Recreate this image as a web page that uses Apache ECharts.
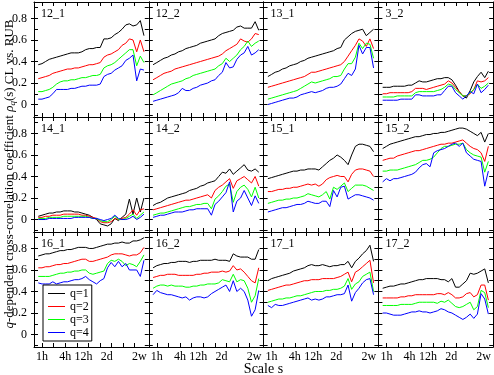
<!DOCTYPE html>
<html>
<head>
<meta charset="utf-8">
<script src="https://cdn.jsdelivr.net/npm/echarts@6/dist/echarts.min.js"></script>
<style>
  html, body { margin: 0; padding: 0; background: #fff; }
  #chart { width: 494px; height: 375px; }
</style>
</head>
<body>
<div id="chart"></div>
<script>
// panels in reading order, 4 per row
const panelNames = ['12_1', '12_2', '13_1', '3_2', '14_1', '14_2', '15_1', '15_2', '16_1', '16_2', '17_1', '17_2'];
const seriesNames = ['q=1', 'q=2', 'q=3', 'q=4'];
const seriesColors = ['#000000', '#ff0000', '#00ff00', '#0000ff'];

// scale s in hours (log spaced)
const scaleHours = [0.8, 1, 1.24, 1.54, 1.91, 2.38, 2.96, 3.68, 4.57, 5.69, 7.08, 8.79, 10.9, 13.6, 16.9,
  21, 26.2, 32.5, 40.5, 50.3, 62.5, 77.8, 96.8, 120, 150, 186, 231, 288, 358, 445];

const xTickLabels = ['1h', '4h', '12h', '2d', '2w'];
const xTickHours = [1, 4, 12, 48, 336];
const xMinorHours = [1, 2, 4, 8, 16, 32, 64, 128, 256];
const yTickLabels = [0, 0.2, 0.4, 0.6, 0.8];
const yMinorTicks = [-0.1, 0, 0.1, 0.2, 0.3, 0.4, 0.5, 0.6, 0.7, 0.8, 0.9];

// each panel: [q=1, q=2, q=3, q=4]
const p12_1 = [
  [0.37,0.38,0.40,0.42,0.43,0.44,0.45,0.46,0.47,0.48,0.48,0.48,0.49,0.51,0.52,0.52,0.53,0.53,0.61,0.61,0.62,0.65,0.67,0.70,0.74,0.75,0.73,0.74,0.78,0.64],
  [0.24,0.25,0.26,0.27,0.29,0.30,0.31,0.32,0.33,0.33,0.34,0.34,0.35,0.36,0.37,0.37,0.38,0.39,0.44,0.46,0.47,0.49,0.51,0.55,0.57,0.61,0.60,0.49,0.60,0.49],
  [0.12,0.12,0.13,0.14,0.16,0.19,0.21,0.22,0.22,0.23,0.23,0.24,0.25,0.25,0.26,0.27,0.27,0.28,0.34,0.36,0.37,0.39,0.42,0.45,0.48,0.51,0.51,0.36,0.45,0.39],
  [0.05,0.05,0.06,0.07,0.10,0.14,0.14,0.14,0.14,0.15,0.15,0.16,0.17,0.17,0.18,0.18,0.18,0.19,0.26,0.28,0.29,0.32,0.34,0.36,0.41,0.43,0.46,0.22,0.33,0.32]
];
const p12_2 = [
  [0.37,0.39,0.41,0.43,0.44,0.46,0.47,0.49,0.50,0.52,0.53,0.54,0.55,0.57,0.58,0.59,0.60,0.61,0.64,0.66,0.67,0.68,0.69,0.72,0.73,0.71,0.71,0.71,0.77,0.69],
  [0.23,0.25,0.27,0.29,0.30,0.31,0.33,0.34,0.35,0.36,0.37,0.38,0.39,0.40,0.41,0.42,0.43,0.44,0.45,0.47,0.50,0.52,0.54,0.56,0.61,0.59,0.58,0.61,0.66,0.65],
  [0.09,0.11,0.13,0.15,0.17,0.19,0.20,0.21,0.22,0.24,0.25,0.27,0.28,0.29,0.30,0.31,0.32,0.33,0.36,0.38,0.43,0.40,0.43,0.46,0.51,0.54,0.59,0.54,0.57,0.59],
  [0.03,0.04,0.05,0.06,0.07,0.08,0.09,0.11,0.15,0.13,0.13,0.15,0.16,0.18,0.19,0.20,0.22,0.23,0.27,0.30,0.39,0.34,0.35,0.42,0.46,0.48,0.54,0.46,0.48,0.51]
];
const p13_1 = [
  [0.26,0.28,0.30,0.31,0.33,0.34,0.36,0.37,0.38,0.40,0.41,0.43,0.44,0.45,0.46,0.47,0.48,0.49,0.50,0.52,0.53,0.60,0.63,0.66,0.68,0.69,0.70,0.64,0.67,0.70],
  [0.16,0.17,0.18,0.19,0.20,0.21,0.22,0.23,0.24,0.25,0.26,0.28,0.30,0.30,0.31,0.32,0.33,0.34,0.35,0.36,0.37,0.40,0.45,0.50,0.55,0.61,0.59,0.54,0.61,0.52],
  [0.05,0.06,0.07,0.08,0.09,0.10,0.11,0.12,0.13,0.15,0.17,0.19,0.21,0.20,0.21,0.22,0.23,0.24,0.26,0.26,0.27,0.33,0.38,0.38,0.44,0.57,0.52,0.57,0.56,0.43],
  [0.00,0.01,0.02,0.03,0.04,0.05,0.06,0.06,0.07,0.09,0.10,0.11,0.12,0.11,0.12,0.13,0.15,0.16,0.16,0.17,0.19,0.24,0.29,0.27,0.33,0.55,0.47,0.53,0.53,0.34]
];
const p3_2 = [
  [0.16,0.16,0.16,0.17,0.17,0.17,0.17,0.18,0.18,0.20,0.22,0.21,0.21,0.22,0.23,0.24,0.24,0.25,0.25,0.23,0.18,0.12,0.08,0.06,0.13,0.21,0.26,0.30,0.25,0.31],
  [0.10,0.10,0.11,0.11,0.11,0.11,0.11,0.11,0.12,0.15,0.15,0.15,0.14,0.15,0.16,0.17,0.18,0.19,0.22,0.20,0.16,0.12,0.08,0.08,0.10,0.14,0.22,0.21,0.22,0.25],
  [0.07,0.07,0.07,0.07,0.08,0.08,0.08,0.08,0.08,0.11,0.12,0.12,0.12,0.12,0.12,0.13,0.14,0.16,0.19,0.18,0.14,0.11,0.08,0.08,0.11,0.14,0.19,0.15,0.17,0.20],
  [0.04,0.04,0.04,0.04,0.04,0.05,0.05,0.05,0.05,0.09,0.09,0.08,0.08,0.08,0.08,0.09,0.09,0.13,0.17,0.17,0.11,0.08,0.05,0.08,0.12,0.10,0.19,0.11,0.14,0.18]
];
const p14_1 = [
  [0.03,0.04,0.05,0.06,0.06,0.07,0.07,0.08,0.08,0.08,0.07,0.07,0.06,0.05,0.04,0.02,0.00,-0.04,-0.05,-0.06,-0.04,0.01,-0.01,0.02,0.05,0.19,0.05,0.20,0.07,0.20],
  [0.02,0.02,0.03,0.03,0.04,0.04,0.04,0.05,0.05,0.05,0.05,0.05,0.04,0.04,0.03,0.02,0.01,-0.02,-0.03,-0.03,-0.02,0.01,0.00,0.01,0.02,0.05,0.09,0.04,0.09,0.10],
  [0.01,0.01,0.01,0.02,0.02,0.02,0.02,0.03,0.03,0.03,0.03,0.03,0.03,0.03,0.02,0.01,0.01,-0.01,-0.02,-0.02,0.00,0.03,0.00,0.00,0.01,0.03,0.05,0.01,0.04,0.07],
  [0.00,0.00,0.00,0.01,0.01,0.01,0.01,0.01,0.01,0.01,0.02,0.02,0.02,0.02,0.02,0.01,0.01,0.00,-0.01,0.00,0.01,0.04,0.01,0.00,0.00,0.01,0.03,0.00,0.02,0.05]
];
const p14_2 = [
  [0.13,0.15,0.16,0.18,0.20,0.21,0.22,0.23,0.24,0.25,0.27,0.28,0.29,0.31,0.32,0.34,0.35,0.36,0.40,0.44,0.43,0.47,0.42,0.45,0.48,0.51,0.46,0.45,0.47,0.44],
  [0.09,0.10,0.11,0.12,0.13,0.14,0.15,0.16,0.17,0.18,0.18,0.19,0.20,0.21,0.22,0.23,0.20,0.27,0.30,0.32,0.35,0.38,0.29,0.36,0.38,0.40,0.37,0.34,0.40,0.31],
  [0.04,0.05,0.06,0.06,0.07,0.08,0.09,0.10,0.11,0.12,0.12,0.13,0.14,0.14,0.15,0.15,0.10,0.19,0.22,0.26,0.31,0.33,0.16,0.26,0.30,0.32,0.28,0.21,0.30,0.20],
  [0.02,0.03,0.04,0.04,0.05,0.06,0.07,0.07,0.07,0.08,0.09,0.09,0.10,0.10,0.10,0.10,0.04,0.14,0.17,0.21,0.25,0.35,0.07,0.17,0.20,0.27,0.20,0.13,0.22,0.15]
];
const p15_1 = [
  [0.38,0.39,0.40,0.41,0.42,0.43,0.44,0.45,0.45,0.46,0.46,0.47,0.47,0.47,0.46,0.49,0.52,0.55,0.57,0.60,0.58,0.55,0.51,0.60,0.68,0.70,0.70,0.69,0.68,0.63],
  [0.26,0.26,0.27,0.28,0.28,0.29,0.29,0.30,0.30,0.31,0.32,0.33,0.32,0.33,0.31,0.33,0.37,0.39,0.40,0.41,0.40,0.40,0.35,0.42,0.46,0.47,0.47,0.46,0.45,0.40],
  [0.15,0.16,0.17,0.18,0.18,0.19,0.19,0.20,0.20,0.21,0.22,0.24,0.23,0.22,0.21,0.23,0.26,0.19,0.30,0.28,0.31,0.34,0.26,0.29,0.32,0.32,0.32,0.31,0.29,0.27],
  [0.07,0.08,0.09,0.10,0.11,0.11,0.12,0.13,0.14,0.14,0.15,0.17,0.16,0.15,0.15,0.17,0.17,0.12,0.27,0.21,0.30,0.31,0.19,0.21,0.23,0.23,0.22,0.21,0.20,0.18]
];
const p15_2 = [
  [0.66,0.68,0.70,0.71,0.72,0.73,0.74,0.75,0.76,0.77,0.77,0.78,0.79,0.79,0.80,0.80,0.81,0.81,0.82,0.83,0.84,0.85,0.85,0.84,0.82,0.80,0.78,0.81,0.72,0.80],
  [0.55,0.56,0.57,0.57,0.59,0.60,0.61,0.62,0.63,0.64,0.64,0.65,0.66,0.67,0.68,0.69,0.70,0.70,0.71,0.71,0.72,0.73,0.74,0.71,0.68,0.66,0.65,0.62,0.54,0.68],
  [0.45,0.45,0.46,0.46,0.46,0.47,0.48,0.49,0.50,0.51,0.53,0.55,0.55,0.56,0.58,0.62,0.66,0.68,0.68,0.69,0.70,0.70,0.71,0.65,0.62,0.60,0.59,0.58,0.44,0.54],
  [0.35,0.38,0.36,0.38,0.38,0.39,0.40,0.41,0.42,0.44,0.48,0.51,0.52,0.49,0.62,0.64,0.65,0.66,0.68,0.70,0.71,0.68,0.71,0.62,0.59,0.56,0.55,0.54,0.31,0.45]
];
const p16_1 = [
  [0.73,0.74,0.75,0.75,0.76,0.77,0.78,0.78,0.79,0.79,0.80,0.81,0.81,0.81,0.80,0.80,0.81,0.82,0.83,0.84,0.84,0.85,0.85,0.86,0.85,0.85,0.87,0.87,0.88,0.90],
  [0.62,0.62,0.63,0.63,0.64,0.65,0.65,0.66,0.66,0.67,0.68,0.69,0.70,0.70,0.68,0.68,0.69,0.70,0.71,0.72,0.74,0.75,0.75,0.75,0.74,0.73,0.74,0.74,0.76,0.81],
  [0.54,0.54,0.54,0.54,0.55,0.56,0.57,0.57,0.58,0.58,0.59,0.59,0.60,0.60,0.57,0.56,0.57,0.58,0.59,0.66,0.69,0.68,0.70,0.68,0.64,0.66,0.65,0.63,0.68,0.74],
  [0.48,0.47,0.47,0.47,0.49,0.47,0.48,0.49,0.49,0.50,0.51,0.51,0.52,0.54,0.51,0.49,0.47,0.50,0.52,0.62,0.67,0.63,0.68,0.63,0.66,0.60,0.60,0.60,0.54,0.69]
];
const p16_2 = [
  [0.62,0.64,0.65,0.66,0.66,0.67,0.67,0.68,0.68,0.68,0.67,0.68,0.68,0.69,0.69,0.69,0.69,0.70,0.69,0.69,0.69,0.68,0.75,0.73,0.72,0.72,0.72,0.70,0.70,0.79],
  [0.53,0.54,0.55,0.55,0.56,0.56,0.56,0.55,0.55,0.55,0.55,0.55,0.56,0.56,0.57,0.57,0.58,0.58,0.58,0.59,0.58,0.59,0.64,0.60,0.61,0.58,0.54,0.50,0.48,0.62],
  [0.43,0.45,0.46,0.46,0.45,0.46,0.45,0.45,0.45,0.44,0.44,0.45,0.45,0.46,0.46,0.47,0.47,0.47,0.48,0.51,0.50,0.49,0.56,0.49,0.51,0.50,0.43,0.30,0.36,0.52],
  [0.37,0.41,0.39,0.38,0.37,0.37,0.36,0.35,0.34,0.35,0.32,0.34,0.35,0.35,0.34,0.35,0.38,0.40,0.42,0.44,0.46,0.40,0.50,0.40,0.43,0.40,0.32,0.17,0.23,0.41]
];
const p17_1 = [
  [0.50,0.52,0.53,0.54,0.55,0.56,0.57,0.59,0.60,0.61,0.62,0.64,0.65,0.64,0.64,0.65,0.64,0.63,0.64,0.64,0.65,0.65,0.68,0.62,0.68,0.71,0.75,0.78,0.83,0.68],
  [0.41,0.42,0.43,0.44,0.45,0.46,0.46,0.47,0.48,0.49,0.50,0.50,0.51,0.51,0.51,0.52,0.52,0.52,0.52,0.53,0.54,0.56,0.58,0.49,0.58,0.60,0.63,0.66,0.69,0.48],
  [0.30,0.31,0.32,0.33,0.33,0.34,0.34,0.35,0.36,0.36,0.37,0.38,0.39,0.40,0.40,0.40,0.41,0.41,0.42,0.42,0.43,0.45,0.52,0.42,0.47,0.49,0.54,0.56,0.58,0.40],
  [0.27,0.25,0.28,0.27,0.27,0.28,0.29,0.30,0.31,0.32,0.33,0.34,0.32,0.33,0.32,0.33,0.35,0.35,0.36,0.37,0.37,0.38,0.46,0.31,0.39,0.43,0.48,0.51,0.52,0.37]
];
const p17_2 = [
  [0.43,0.44,0.45,0.45,0.46,0.47,0.47,0.48,0.49,0.50,0.51,0.51,0.52,0.52,0.52,0.52,0.51,0.51,0.49,0.52,0.44,0.44,0.47,0.50,0.57,0.56,0.57,0.59,0.61,0.48],
  [0.34,0.34,0.34,0.34,0.34,0.35,0.35,0.36,0.36,0.37,0.37,0.37,0.37,0.37,0.37,0.38,0.38,0.37,0.39,0.37,0.34,0.34,0.35,0.38,0.39,0.35,0.37,0.46,0.46,0.32],
  [0.27,0.27,0.27,0.27,0.27,0.28,0.28,0.28,0.28,0.29,0.30,0.30,0.30,0.30,0.30,0.29,0.31,0.30,0.32,0.29,0.26,0.25,0.26,0.28,0.30,0.23,0.26,0.41,0.39,0.25],
  [0.20,0.20,0.19,0.18,0.18,0.18,0.19,0.20,0.21,0.21,0.22,0.21,0.21,0.20,0.21,0.22,0.24,0.23,0.21,0.20,0.18,0.16,0.14,0.16,0.19,0.15,0.19,0.38,0.33,0.19]
];
const panelData = [p12_1, p12_2, p13_1, p3_2, p14_1, p14_2, p15_1, p15_2, p16_1, p16_2, p17_1, p17_2];

const FONT = 'Liberation Serif';
const colLeft = [34, 148.8, 263.6, 378.4];
const rowTop = [2, 117, 232];
const cellW = 114.8, cellH = 115;
const xMin = -0.208, xMax = 2.774; // log10 hours
const yMin = -0.116, yMax = 0.953;

const xLabelLog = xTickHours.map(h => Math.log10(h));
const xMinorLog = xMinorHours.map(h => Math.log10(h));

function xFmt(v) {
  let best = 0;
  xLabelLog.forEach((t, i) => { if (Math.abs(t - v) < Math.abs(xLabelLog[best] - v)) best = i; });
  return xTickLabels[best];
}
function yFmt(v) {
  return v === 0 ? '0' : v.toFixed(1);
}

const line = { show: true, onZero: false, lineStyle: { color: '#000', width: 1 } };
const tickStyle = { color: '#000', width: 1 };
const noLabel = { show: false, formatter: () => '' };

let grid = [], xAxis = [], yAxis = [], series = [], graphic = [];

panelNames.forEach((name, p) => {
  const r = Math.floor(p / 4), c = p % 4;
  grid.push({ left: colLeft[c], top: rowTop[r], width: cellW, height: cellH, containLabel: false });

  ['bottom', 'top'].forEach(pos => {
    const withLabels = pos === 'bottom' && r === 2;
    xAxis.push({
      gridIndex: p, type: 'value', position: pos, min: xMin, max: xMax,
      axisLine: line,
      axisTick: { show: true, inside: true, length: 4, customValues: xMinorLog, lineStyle: tickStyle },
      axisLabel: withLabels
        ? { show: true, customValues: xLabelLog, formatter: xFmt, color: '#000', fontFamily: FONT, fontSize: 12, margin: 4 }
        : noLabel,
      splitLine: { show: false }
    });
  });
  ['left', 'right'].forEach(pos => {
    const withLabels = pos === 'left' && c === 0;
    yAxis.push({
      gridIndex: p, type: 'value', position: pos, min: yMin, max: yMax,
      axisLine: line,
      axisTick: { show: true, inside: true, length: 4, customValues: yMinorTicks, lineStyle: tickStyle },
      axisLabel: withLabels
        ? { show: true, customValues: yTickLabels, formatter: yFmt, color: '#000', fontFamily: FONT, fontSize: 12, margin: 7 }
        : noLabel,
      splitLine: { show: false }
    });
  });

  panelData[p].forEach((vals, k) => {
    series.push({
      type: 'line', name: seriesNames[k],
      xAxisIndex: 2 * p, yAxisIndex: 2 * p,
      data: scaleHours.map((h, i) => [Math.log10(h), vals[i]]),
      symbol: 'none', silent: true,
      lineStyle: { color: seriesColors[k], width: 1 },
      itemStyle: { color: seriesColors[k] }
    });
  });

  graphic.push({
    type: 'text', x: colLeft[c] + 7, y: rowTop[r] + 6, z: 10,
    style: { text: name, fontFamily: FONT, fontSize: 12, fill: '#000', verticalAlign: 'top' }
  });
});

// outward ticks on the outer left edge
[0, 4, 8].forEach(p => {
  yAxis.push({
    gridIndex: p, type: 'value', position: 'left', min: yMin, max: yMax,
    axisLine: { show: false, onZero: false },
    axisTick: { show: true, inside: false, length: 3, customValues: yTickLabels, lineStyle: tickStyle },
    axisLabel: noLabel, splitLine: { show: false }
  });
});

// axis titles
graphic.push({
  type: 'text', x: 10, y: 174, rotation: Math.PI / 2,
  style: {
    text: '{i|q}-dependent cross-correlation coefficient {i|ρ}{sub|q}(s) CL vs. RUB',
    fontFamily: FONT, fontSize: 13, fill: '#000', align: 'center', verticalAlign: 'middle',
    rich: {
      i: { fontFamily: FONT, fontSize: 13, fontStyle: 'italic' },
      sub: { fontFamily: FONT, fontSize: 9, fontStyle: 'italic', padding: [6, 0, 0, 0] }
    }
  }
});
graphic.push({
  type: 'text', x: 263.5, y: 369,
  style: { text: 'Scale s', fontFamily: FONT, fontSize: 14, fill: '#000', align: 'center', verticalAlign: 'middle' }
});

const chart = echarts.init(document.getElementById('chart'), null, { renderer: 'canvas' });
chart.setOption({
  animation: false,
  backgroundColor: '#fff',
  grid: grid,
  xAxis: xAxis,
  yAxis: yAxis,
  series: series,
  graphic: graphic,
  legend: {
    data: seriesNames, orient: 'vertical', left: 43, top: 285,
    padding: [2, 3, 2, 5], itemWidth: 17, itemHeight: 1, itemGap: 0, icon: 'rect',
    backgroundColor: '#fff', borderColor: '#000', borderWidth: 1, borderRadius: 0,
    selectedMode: false, z: 20,
    textStyle: { fontFamily: FONT, fontSize: 12, color: '#000', lineHeight: 13 }
  }
});
</script>
</body>
</html>
